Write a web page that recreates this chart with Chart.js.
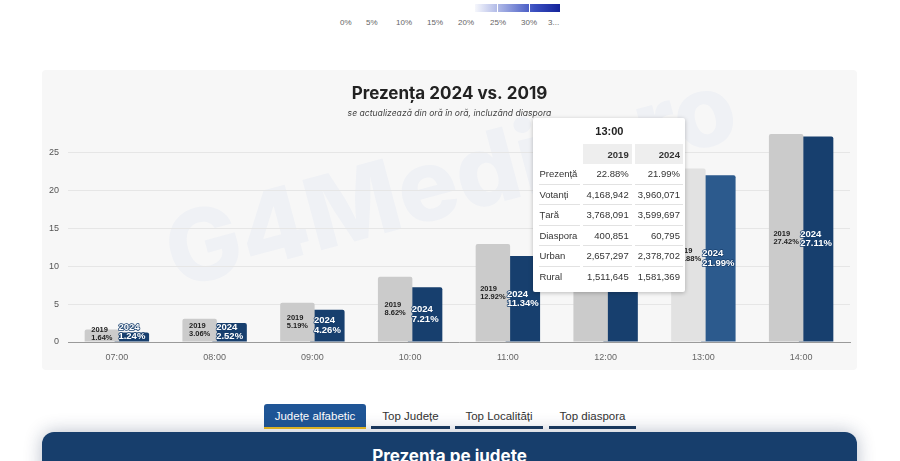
<!DOCTYPE html>
<html>
<head>
<meta charset="utf-8">
<script src="https://cdn.jsdelivr.net/npm/chart.js@4.4.1/dist/chart.umd.min.js"></script>
<style>
  html, body { margin: 0; padding: 0; background: #fff; width: 900px; height: 461px; overflow: hidden; font-family: "Liberation Sans", Arial, sans-serif; }
  .scale { position: absolute; left: 0; top: 0; width: 900px; height: 30px; }
  .scale .bar { position: absolute; left: 475px; top: 4px; width: 85px; height: 8px; background: linear-gradient(to right, #f6f7fc, #9aa6e0 35%, #3a4fc0 70%, #14239a); }
  .scale .sep { position: absolute; top: 4px; width: 1px; height: 8px; background: #fff; }
  .scale span { position: absolute; top: 18px; font-size: 8px; color: #666; }
  .card { position: absolute; left: 42px; top: 70px; width: 815px; height: 300px; background: #f7f7f7; border-radius: 4px; overflow: hidden; }
  .watermark { position: absolute; left: 408px; top: 108px; transform: translate(-50%, -50%) rotate(-15deg); font-family: Inter, sans-serif; font-weight: 800; font-size: 100px; color: rgba(40, 100, 210, 0.04); white-space: nowrap; pointer-events: none; }
  .card canvas { position: absolute; left: 0; top: 0; }
  #tip { position: absolute; background: #fff; box-shadow: 0 1px 4px rgba(0,0,0,0.25); border-radius: 2px; font-size: 9.5px; color: #333; padding: 0 6px 6px 6px; box-sizing: border-box; }
  #tip .t { text-align: center; font-weight: bold; font-size: 11px; color: #222; padding: 7px 0 7px 0; }
  #tip table { border-collapse: separate; border-spacing: 3px 0; margin-left: -3px; }
  #tip th { background: #eee; text-align: right; font-weight: bold; height: 20px; padding: 0 3px; }
  #tip th.e { background: none; }
  #tip td { height: 19.5px; border-bottom: 1px solid #e2e2e2; text-align: right; padding: 0 3px; }
  #tip td.l { text-align: left; padding-left: 0; }
  #tip tr:last-child td { border-bottom: none; }
  .tabs div { position: absolute; top: 404px; height: 25px; line-height: 24px; font-size: 11.5px; text-align: center; color: #333; background: #fff; box-sizing: border-box; border-bottom: 3px solid #1b3a5e; }
  .tabs div.on { background: #1f5596; color: #fff; border-bottom: 2px solid #f0c020; border-radius: 3px 3px 0 0; }
  .bottom { position: absolute; left: 42px; top: 432px; width: 815px; height: 80px; background: #173e6c; border-radius: 12px; box-shadow: 0 0 18px rgba(20,40,80,0.3); }
  .bottom h2 { margin: 0; padding-top: 14px; text-align: center; color: #fff; font-family: Inter, sans-serif; font-size: 17px; font-weight: 700; }
</style>
</head>
<body>
<div class="scale">
  <div class="bar"></div>
  <div class="sep" style="left:497px"></div>
  <div class="sep" style="left:529px"></div>
  <span style="left:340px">0%</span>
  <span style="left:366px">5%</span>
  <span style="left:396px">10%</span>
  <span style="left:427px">15%</span>
  <span style="left:458px">20%</span>
  <span style="left:490px">25%</span>
  <span style="left:521px">30%</span>
  <span style="left:548px">3...</span>
</div>

<div class="card" id="card">
  <div class="watermark">G4Media.ro</div>
  <canvas id="chart" width="815" height="300"></canvas>
  <div id="tip"></div>
</div>

<div class="tabs">
  <div class="on" style="left:264px;width:102px">Județe alfabetic</div>
  <div style="left:371px;width:79px">Top Județe</div>
  <div style="left:455px;width:88px">Top Localități</div>
  <div style="left:549px;width:87px">Top diaspora</div>
</div>

<div class="bottom"><h2>Prezența pe județe</h2></div>

<script>
// Date prezenta la vot (procente)
const hours = ['07:00', '08:00', '09:00', '10:00', '11:00', '12:00', '13:00', '14:00'];
const turnout2019 = [1.64, 3.06, 5.19, 8.62, 12.92, 17.96, 22.88, 27.42];
const turnout2024 = [1.24, 2.52, 4.26, 7.21, 11.34, 16.67, 21.99, 27.11];
const yTicks = [0, 5, 10, 15, 20, 25];

// Tooltip pentru ora selectata
const activeHour = 6;
const tipRows = ['Prezență', 'Votanți', 'Țară', 'Diaspora', 'Urban', 'Rural'];
const tip2019 = ['22.88%', '4,168,942', '3,768,091', '400,851', '2,657,297', '1,511,645'];
const tip2024 = ['21.99%', '3,960,071', '3,599,697', '60,795', '2,378,702', '1,581,369'];

const gray = hours.map((h, i) => i === activeHour ? '#e2e2e2' : '#cbcbcb');
const navy = hours.map((h, i) => i === activeHour ? '#2c5a8d' : '#173f6e');

// Etichete in interiorul barelor
const barLabels = {
  id: 'barLabels',
  afterDatasetsDraw(chart) {
    const ctx = chart.ctx;
    chart.data.datasets.forEach((ds, di) => {
      const meta = chart.getDatasetMeta(di);
      const small = di === 0;
      const size = small ? 7.5 : 9.5;
      const lh = small ? 7.5 : 9.5;
      meta.data.forEach((bar, i) => {
        const lines = [ds.label, ds.data[i].toFixed(2) + '%'];
        ctx.save();
        ctx.font = 'bold ' + size + 'px "Liberation Sans", Arial, sans-serif';
        const w = Math.max(...lines.map(l => ctx.measureText(l).width));
        let top = (bar.y + bar.base) / 2 - lh;
        if (top + lh * 2 > bar.base) top = bar.base - lh * 2;
        const x = bar.x - w / 2;
        ctx.textAlign = 'left';
        ctx.textBaseline = 'middle';
        lines.forEach((l, k) => {
          const y = top + lh * k + lh / 2;
          if (!small) {
            ctx.strokeStyle = '#173f6e';
            ctx.lineWidth = 1.5;
            ctx.lineJoin = 'round';
            ctx.strokeText(l, x, y);
            ctx.fillStyle = '#fff';
          } else {
            ctx.fillStyle = '#222';
          }
          ctx.fillText(l, x, y);
        });
        ctx.restore();
      });
    });
  }
};

const chart = new Chart(document.getElementById('chart'), {
  type: 'bar',
  data: {
    labels: hours,
    datasets: [
      { label: '2019', data: turnout2019, backgroundColor: gray, borderRadius: 2 },
      { label: '2024', data: turnout2024, backgroundColor: navy, borderRadius: 2 }
    ]
  },
  options: {
    responsive: false,
    animation: false,
    events: [],
    categoryPercentage: 0.613,
    barPercentage: 1.15,
    layout: { padding: { left: 7, right: 7, top: 0, bottom: 0 } },
    scales: {
      x: {
        grid: { display: false, drawTicks: false },
        border: { color: '#9a9a9a' },
        afterFit: axis => { axis.height = 28; },
        ticks: { color: '#666', font: { size: 9, family: '"Liberation Sans", Arial' }, padding: 10 }
      },
      y: {
        min: 0,
        max: 28,
        afterBuildTicks: axis => { axis.ticks = yTicks.map(v => ({ value: v })); },
        afterFit: axis => { axis.width = 19; },
        grid: { color: '#e6e6e6', drawTicks: false },
        border: { display: false },
        ticks: { color: '#555', font: { size: 9, family: '"Liberation Sans", Arial' }, padding: 9 }
      }
    },
    plugins: {
      legend: { display: false },
      tooltip: { enabled: false },
      title: {
        display: true,
        text: 'Prezența 2024 vs. 2019',
        color: '#222',
        font: { family: 'Inter', size: 17, weight: '700' },
        padding: { top: 14, bottom: 4 }
      },
      subtitle: {
        display: true,
        text: 'se actualizează din oră în oră, incluzând diaspora',
        color: '#444',
        font: { family: 'Inter', size: 8.6, style: 'italic' },
        padding: { bottom: 11 }
      }
    }
  },
  plugins: [barLabels]
});

// Tooltip HTML pozitionat langa ora activa
const tip = document.getElementById('tip');
let html = '<div class="t">' + hours[activeHour] + '</div><table><tr><th class="e"></th><th>2019</th><th>2024</th></tr>';
tipRows.forEach((r, i) => {
  html += '<tr><td class="l">' + r + '</td><td>' + tip2019[i] + '</td><td>' + tip2024[i] + '</td></tr>';
});
html += '</table>';
tip.innerHTML = html;
const xa = chart.scales.x.getPixelForValue(activeHour);
tip.style.left = (xa - 170) + 'px';
tip.style.top = '48px';
tip.style.width = '152px';
</script>
</body>
</html>
